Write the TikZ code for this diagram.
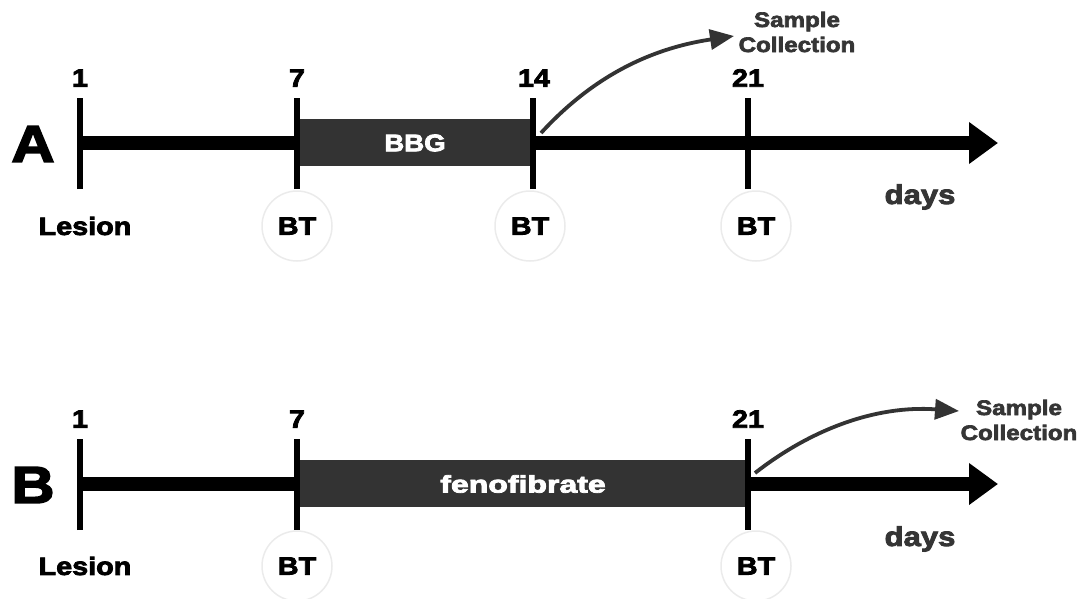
\documentclass[tikz,border=0pt]{standalone}
\usepackage{fontspec}
\setmainfont{Liberation Sans}
\newfontfamily\heavy{Liberation Sans}[UprightFont=* Bold, FakeBold=3.2, FakeStretch=1.15]
\usetikzlibrary{arrows.meta}
\definecolor{ink}{HTML}{000000}
\definecolor{darkbar}{HTML}{333333}
\definecolor{softtxt}{HTML}{353535}
\definecolor{ringgray}{HTML}{EBEBEB}
\begin{document}
\begin{tikzpicture}[x=1pt,y=-1pt,
  axis/.style={line width=14pt,draw=ink,-{Triangle[length=29pt,width=40pt]}},
  tick/.style={line width=6pt,draw=ink},
  treat/.style={fill=darkbar,draw=none},
  lbl/.style={font=\heavy\fontsize{25}{26}\selectfont,text=ink,inner sep=0pt},
  panel/.style={font=\heavy\fontsize{52}{54}\selectfont,text=ink,inner sep=0pt},
  ring/.style={circle,draw=ringgray,line width=1.5pt,minimum size=70pt,inner sep=0pt,
               font=\heavy\fontsize{25}{26}\selectfont},
  bartxt/.style={font=\heavy\fontsize{24}{26}\selectfont,text=white,inner sep=0pt},
  gray/.style={font=\heavy\fontsize{27}{28}\selectfont,text=softtxt,inner sep=0pt},
  sample/.style={font=\heavy\fontsize{21}{25}\selectfont,text=softtxt,inner sep=0pt,align=center},
  collect/.style={draw=darkbar,line width=3.8pt,-{Triangle[length=24pt,width=20pt]}}
]
\useasboundingbox (0,0) rectangle (1083,598);

% ---------- Panel A ----------
\coordinate (a1) at (80,143);
\coordinate (a7) at (297,143);
\coordinate (a14) at (533,143);
\coordinate (a21) at (748,143);
\coordinate (aend) at (998,143);
\draw[axis] (a1) -- (aend);
\fill[treat] (297,119) rectangle (533,166);
\node[bartxt] (bbg) at (415,143) {BBG};
\foreach \p in {a1,a7,a14,a21}
  \draw[tick] ([yshift=-46pt]\p) -- ([yshift=45pt]\p);
\node[lbl] (na1) at (80,78) {1};
\node[lbl] (na7) at (297,78) {7};
\node[lbl] (na14) at (534,78) {14};
\node[lbl] (na21) at (748,78) {21};
\node[panel] (pA) at (33,144) {A};
\node[lbl] (lesA) at (85,226) {Lesion};
\node[ring] (btA7) at (297,226) {BT};
\node[ring] (btA14) at (530,226) {BT};
\node[ring] (btA21) at (756,226) {BT};
\node[gray] (daysA) at (920,197) {days};
\node[sample] (scA) at (797,32) {Sample\\Collection};
\coordinate (sA) at (541,133);
\coordinate (tA) at (734,36);
\draw[collect] (sA) .. controls (585,85) and (640,50) .. (tA);

% ---------- Panel B ----------
\coordinate (b1) at (80,484);
\coordinate (b7) at (297,484);
\coordinate (b21) at (748,484);
\coordinate (bend) at (998,484);
\draw[axis] (b1) -- (bend);
\fill[treat] (297,460) rectangle (748,507);
\node[bartxt] (feno) at (523,484) {\scalebox{1.16}[1]{fenofibrate}};
\foreach \p in {b1,b7,b21}
  \draw[tick] ([yshift=-46pt]\p) -- ([yshift=45pt]\p);
\node[lbl] (nb1) at (80,419) {1};
\node[lbl] (nb7) at (297,419) {7};
\node[lbl] (nb21) at (748,419) {21};
\node[panel] (pB) at (33,485) {B};
\node[lbl] (lesB) at (85,566) {Lesion};
\node[ring] (btB7) at (297,566) {BT};
\node[ring] (btB21) at (756,566) {BT};
\node[gray] (daysB) at (920,539) {days};
\node[sample] (scB) at (1019,420) {Sample\\Collection};
\coordinate (sB) at (755,473);
\coordinate (tB) at (959,411);
\draw[collect] (sB) .. controls (810,430) and (875,405) .. (tB);
\end{tikzpicture}
\end{document}
